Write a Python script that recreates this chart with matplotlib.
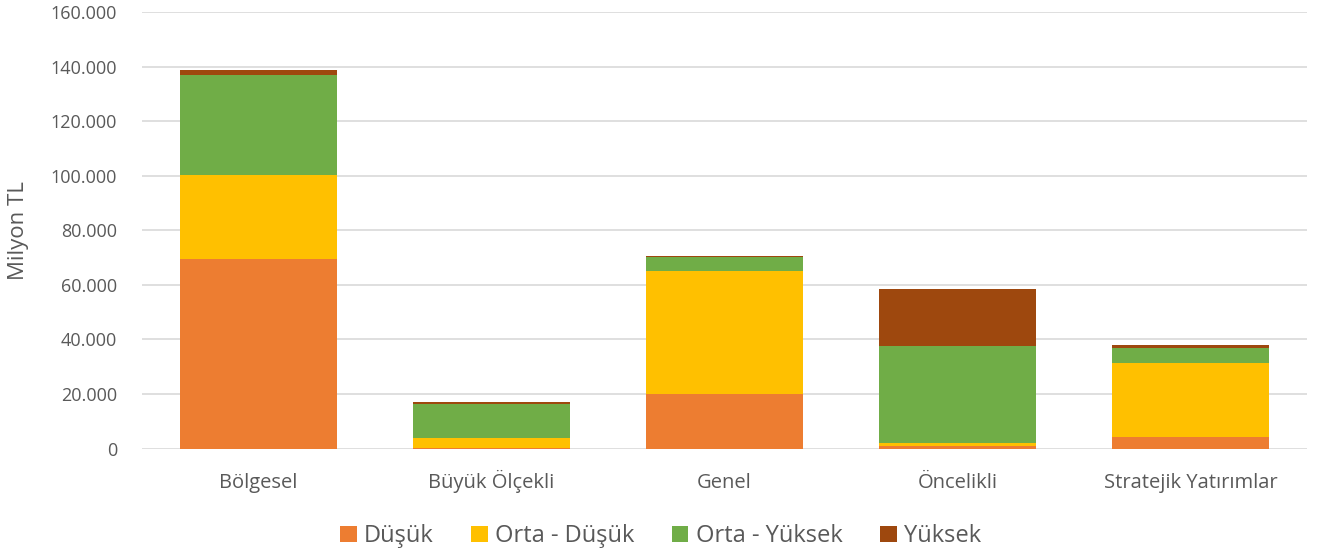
import matplotlib.pyplot as plt
import numpy as np
from matplotlib.ticker import FuncFormatter

plt.rcParams['font.family'] = ['Open Sans', 'DejaVu Sans']

categories = ['Bölgesel', 'Büyük Ölçekli', 'Genel', 'Öncelikli', 'Stratejik Yatırımlar']
series_names = ['Düşük', 'Orta - Düşük', 'Orta - Yüksek', 'Yüksek']
dusuk = [69500, 300, 20100, 1000, 4300]
orta_dusuk = [30800, 3400, 45100, 900, 27200]
orta_yuksek = [36700, 12600, 5000, 35800, 5300]
yuksek = [1900, 700, 400, 20900, 1100]
colors = ['#ED7D31', '#FFC000', '#70AD47', '#9E480E']

fig = plt.figure(figsize=(13.23, 5.57), dpi=100)
ax = fig.add_axes([142 / 1323, 1 - 448.5 / 557, 1165 / 1323, 436.5 / 557])

x = np.arange(len(categories))
bottom = np.zeros(len(categories))
for name, vals, col in zip(series_names, [dusuk, orta_dusuk, orta_yuksek, yuksek], colors):
    ax.bar(x, vals, width=0.67, bottom=bottom, color=col, label=name, zorder=3)
    bottom += np.array(vals)

ax.set_xlim(-0.5, len(categories) - 0.5)
ax.set_ylim(0, 160000)
ax.set_yticks(np.arange(0, 160001, 20000))
ax.yaxis.set_major_formatter(FuncFormatter(lambda v, p: f"{int(v):,}".replace(',', '.')))
ax.set_xticks(x)
ax.set_xticklabels(categories)
ax.grid(axis='y', color='#D9D9D9', linewidth=1.2, zorder=0)
for s in ax.spines.values():
    s.set_visible(False)
ax.tick_params(axis='both', length=0, colors='#595959')
ax.tick_params(axis='y', labelsize=13, pad=18)
ax.tick_params(axis='x', labelsize=14.5, pad=28.4)
for lbl in ax.get_xticklabels():
    lbl.set_va('baseline')
ax.set_ylabel('Milyon TL', fontsize=16, color='#595959')
ax.yaxis.set_label_coords(-113 / 1165, 0.5)

ax.legend(loc='upper center', bbox_to_anchor=(0.445, -0.125), ncol=4, frameon=False,
          fontsize=17, labelcolor='#595959', handlelength=0.7, handleheight=0.7,
          handletextpad=0.3, columnspacing=1.6)

fig.savefig('out.png', dpi=100)
